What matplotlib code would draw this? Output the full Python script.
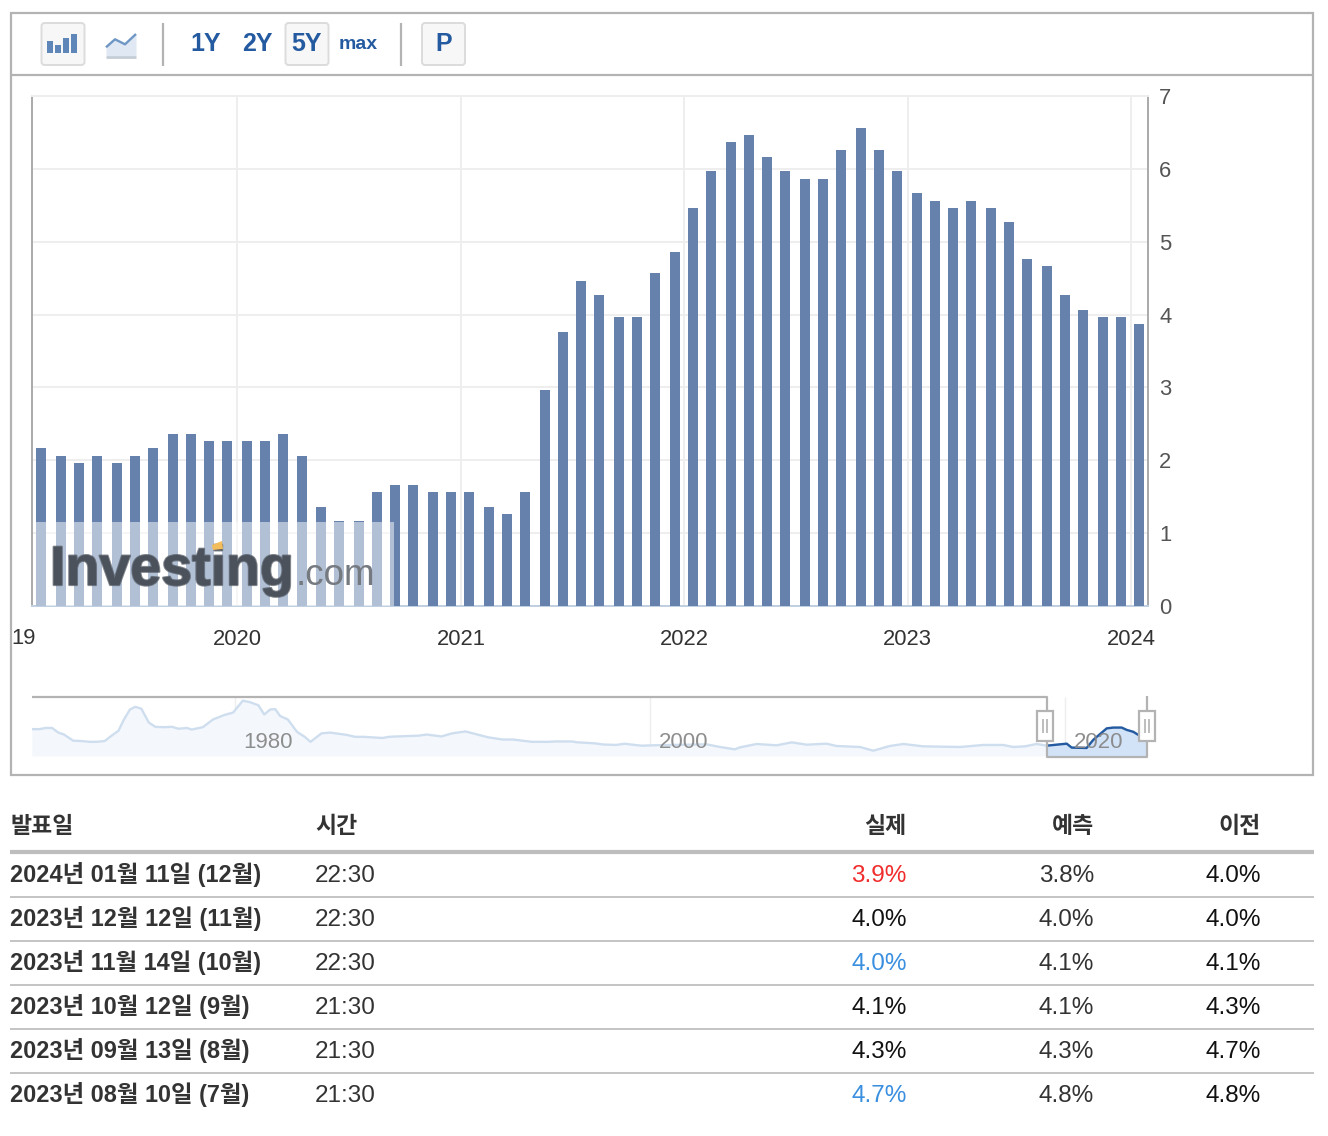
import datetime as dt
import matplotlib
matplotlib.use("Agg")
import matplotlib.pyplot as plt
import matplotlib.dates as mdates
import matplotlib.patheffects as pe
from matplotlib.patches import Rectangle, FancyBboxPatch, Polygon

# ---------- data ----------
release_dates = [
    "2019-02-14","2019-03-19","2019-04-17","2019-05-17","2019-06-19","2019-07-18","2019-08-17","2019-09-18",
    "2019-10-18","2019-11-16","2019-12-16","2020-01-17","2020-02-15","2020-03-16","2020-04-17","2020-05-17",
    "2020-06-16","2020-07-18","2020-08-17","2020-09-15","2020-10-15","2020-11-16","2020-12-16","2021-01-14",
    "2021-02-16","2021-03-17","2021-04-16","2021-05-18","2021-06-17","2021-07-16","2021-08-15","2021-09-16",
    "2021-10-16","2021-11-14","2021-12-17","2022-01-15","2022-02-13","2022-03-18","2022-04-16","2022-05-16",
    "2022-06-14","2022-07-17","2022-08-15","2022-09-14","2022-10-16","2022-11-15","2022-12-14","2023-01-16",
    "2023-02-14","2023-03-16","2023-04-14","2023-05-17","2023-06-15","2023-07-15","2023-08-16","2023-09-15",
    "2023-10-14","2023-11-16","2023-12-15","2024-01-14",
]
core_cpi = [
    2.2,2.1,2.0,2.1,2.0,2.1,2.2,2.4,2.4,2.3,2.3,2.3,2.3,2.4,2.1,1.4,1.2,1.2,1.6,1.7,
    1.7,1.6,1.6,1.6,1.4,1.3,1.6,3.0,3.8,4.5,4.3,4.0,4.0,4.6,4.9,5.5,6.0,6.4,6.5,6.2,
    6.0,5.9,5.9,6.3,6.6,6.3,6.0,5.7,5.6,5.5,5.6,5.5,5.3,4.8,4.7,4.3,4.1,4.0,4.0,3.9,
]
y_ticks = [0,1,2,3,4,5,6,7]
year_ticks = [2020,2021,2022,2023,2024]

nav_years = [1970.19,1970.56,1970.86,1971.17,1971.47,1971.74,1972.18,1972.59,1972.99,1973.3,1973.7,1974.01,
    1974.37,1974.62,1974.92,1975.18,1975.47,1975.83,1976.14,1976.54,1976.95,1977.25,1977.66,1977.9,1978.43,
    1978.92,1979.48,1979.89,1980.36,1980.7,1981.11,1981.39,1981.68,1981.92,1982.16,1982.53,1982.97,1983.34,
    1983.62,1984.15,1984.56,1985.37,1985.77,1986.18,1987.09,1987.4,1987.8,1988.82,1989.22,1989.93,1990.44,
    1991.09,1992.16,1992.87,1993.38,1994.29,1995.1,1995.41,1996.22,1996.42,1997.34,1997.74,1998.35,1998.75,
    1999.57,2000.17,2002.71,2003.27,2004.07,2004.32,2005.12,2006.08,2006.81,2007.53,2008.49,2008.97,2010.1,
    2010.74,2011.54,2012.19,2013.15,2014.92,2016.04,2017.0,2017.49,2018.05,2018.61,2019.1,2020.06,2020.3,
    2021.02,2021.34,2021.99,2022.31,2022.71,2022.95,2023.27,2023.51,2023.93]
nav_values = [6.2,6.2,6.5,6.5,5.3,4.8,3.2,3.1,2.9,2.9,3.1,4.4,5.8,8.6,11.3,12.0,11.5,7.9,6.8,6.7,6.8,6.3,6.5,6.1,
    6.7,8.7,9.9,10.5,13.6,13.2,12.4,10.0,11.3,11.4,9.6,8.7,5.5,4.2,2.9,5.1,5.3,4.7,4.2,4.2,3.9,4.2,4.3,4.5,4.8,
    4.3,5.1,5.6,4.1,3.5,3.5,2.9,2.9,3.0,3.0,2.8,2.5,2.2,2.1,2.4,1.9,2.0,2.25,1.64,0.95,1.47,2.34,1.99,2.77,2.16,
    2.42,1.82,1.56,0.6,1.82,2.34,1.73,1.56,2.08,2.08,1.56,1.73,2.34,1.9,2.42,1.4,1.3,3.4,6.4,6.6,6.6,6.0,5.5,4.7,3.9]
nav_labels = [1980,2000,2020]
selected_start = 2019.1

range_buttons = ["1Y","2Y","5Y","max"]
table_header = ["발표일","시간","실제","예측","이전"]
table_dates = ["2024년 01월 11일 (12월)","2023년 12월 12일 (11월)","2023년 11월 14일 (10월)",
               "2023년 10월 12일 (9월)","2023년 09월 13일 (8월)","2023년 08월 10일 (7월)"]
table_times = ["22:30","22:30","22:30","21:30","21:30","21:30"]
table_actual = ["3.9%","4.0%","4.0%","4.1%","4.3%","4.7%"]
table_forecast = ["3.8%","4.0%","4.1%","4.1%","4.3%","4.8%"]
table_previous = ["4.0%","4.0%","4.1%","4.3%","4.7%","4.8%"]
actual_colors = ["#f02c2c","#111111","#3a8fe0","#111111","#111111","#3a8fe0"]

# ---------- layout helpers ----------
W, H = 1328, 1136
FONT = ["Liberation Sans", "Noto Sans CJK KR", "DejaVu Sans"]
plt.rcParams["font.family"] = FONT
plt.rcParams["lines.solid_capstyle"] = "butt"
fig = plt.figure(figsize=(W/100, H/100), dpi=100, facecolor="white")

def px_axes(l, t, r, b, **kw):
    return fig.add_axes([l/W, 1-b/H, (r-l)/W, (b-t)/H], **kw)

page = fig.add_axes([0,0,1,1], zorder=0)
page.set_xlim(0, W); page.set_ylim(H, 0); page.axis("off")
GREY = "#b3b3b3"
page.add_patch(Rectangle((11,13),1302,762,fc="white",ec=GREY,lw=1.6))
page.plot([11,1313],[75,75],color=GREY,lw=1.6)
for x in (163,401):
    page.plot([x,x],[22.5,65.5],color=GREY,lw=1.6)

def button(x, w=43):
    page.add_patch(FancyBboxPatch((x,23),w,42,boxstyle="round,pad=0,rounding_size=3",
                                  fc="#f7f7f7",ec="#dcdcdc",lw=1.4,zorder=1))
button(41.5); button(285.5); button(422)
BLUE = "#245aa0"
for x,top_y in zip((46.7,55,63.3,71),(40.7,44.7,38.3,34)):
    page.add_patch(Rectangle((x,top_y),5.8,53.3-top_y,fc="#5f86b8",ec="none",zorder=2))
lx=[106,115,125,136]; ly=[47.3,39.3,44.3,34]
page.fill_between(lx,ly,[55.5]*4,color="#dfe8f3",zorder=2,lw=0)
page.plot(lx,ly,color="#6f97c5",lw=1.7,zorder=3)
page.plot([106,136],[56.8,56.8],color="#c3ccd7",lw=2,zorder=3)
for s,x,y,fs in zip(range_buttons,(206,257,307,358),(44,44,44,44.5),(18,18,18,14)):
    page.text(x,y,s,ha="center",va="center",fontsize=fs,fontweight="bold",color=BLUE,zorder=3,
              family="Liberation Sans")
page.text(444,44,"P",ha="center",va="center",fontsize=18,fontweight="bold",color=BLUE,zorder=3,
          family="Liberation Sans")

# ---------- main bar chart ----------
ax = px_axes(32,96,1148,606, zorder=2)
dates = [dt.datetime.strptime(d,"%Y-%m-%d") for d in release_dates]
x_nums = mdates.date2num(dates)
d2020 = mdates.date2num(dt.datetime(2020,1,1)); d2024 = mdates.date2num(dt.datetime(2024,1,1))
per_px = (d2024-d2020)/(1131-237)
ax.set_xlim(d2020-(237-32)*per_px, d2020+(1148-237)*per_px)
ax.set_ylim(0,7)
ticks_x = [mdates.date2num(dt.datetime(y,1,1)) for y in year_ticks]
ax.set_xticks(ticks_x)
ax.set_xticklabels([str(y) for y in year_ticks])
ax.tick_params(axis="x",length=0,labelsize=15.8,labelcolor="#333333",pad=16.7)
ax.grid(True,color="#eeeeee",lw=1.4,zorder=0)
ax.set_axisbelow(True)
ax.spines["top"].set_color("#eeeeee"); ax.spines["top"].set_linewidth(1.4)
ax.spines["left"].set_color("#aaaaaa"); ax.spines["left"].set_linewidth(1.4)
ax.spines["right"].set_color("#aaaaaa"); ax.spines["right"].set_linewidth(1.4)
ax.spines["bottom"].set_color("#c0cfe0"); ax.spines["bottom"].set_linewidth(1.4)

# bars sit a pixel or two below the gridlines in the reference
bars = ax.twinx()
bars.set_zorder(3); bars.patch.set_alpha(0)
bars.set_ylim(0.035,7.035)
bars.set_yticks([])
for s in bars.spines.values():
    s.set_visible(False)
bars.bar(x_nums, core_cpi, width=10*per_px, color="#6682ac", lw=0)

# value axis labels go on the right (twinx resets the side, so set it afterwards)
ax.set_yticks(y_ticks)
ax.yaxis.tick_right()
ax.tick_params(axis="y",length=0,labelsize=15.8,labelcolor="#555555",pad=8)

# overlay in pixels, above the chart
over = fig.add_axes([0,0,1,1], zorder=5)
over.set_xlim(0,W); over.set_ylim(H,0); over.axis("off"); over.patch.set_alpha(0)
over.text(24,638,"19",ha="center",va="center",fontsize=15.8,color="#333333")
over.add_patch(Rectangle((36,522),358,84,fc="white",ec="none",alpha=0.5))
over.text(50,585,"Investing",ha="left",va="baseline",fontsize=40,fontweight="bold",color="#4b525c",
          family="Liberation Sans",
          path_effects=[pe.withStroke(linewidth=1.6,foreground="#4b525c",alpha=0.7)])
over.text(296,585,".com",ha="left",va="baseline",fontsize=26.5,color="#757a81",family="Liberation Sans")
over.add_patch(Polygon([(212,545),(222,541),(223,549),(213,550)],fc="#f3bd5c",ec="none",zorder=6))

# ---------- navigator ----------
nav = px_axes(32,697,1147,756, zorder=2)
y_lo, y_hi = -0.78, 14.55
nav.set_xlim(1970.2,2023.93); nav.set_ylim(y_lo,y_hi)
nav.axis("off")
for yr in nav_labels:
    nav.axvline(yr,color="#eeeeee",lw=1,zorder=0)
nav.fill_between(nav_years,nav_values,y_lo,color="#f4f8fd",lw=0,zorder=1)
nav.plot(nav_years,nav_values,color="#cfdeee",lw=1.7,zorder=2)
sel_x=[v for v in nav_years if v>=selected_start]
sel_y=[b for a,b in zip(nav_years,nav_values) if a>=selected_start]
nav.fill_between(sel_x,sel_y,y_lo,color="#d2e3f8",lw=0,zorder=3)
nav.plot(sel_x,sel_y,color="#245aa0",lw=1.7,zorder=4)
for yr in nav_labels:
    nav.annotate(str(yr),(yr,0),xycoords=("data","axes fraction"),xytext=(23.8,10),
                 textcoords="offset points",ha="center",va="center",fontsize=16,color="#888888",zorder=5,alpha=.95)

top = fig.add_axes([0,0,1,1], zorder=6)
top.set_xlim(0,W); top.set_ylim(H,0); top.axis("off"); top.patch.set_alpha(0)
top.plot([32,1047,1047],[697,697,710],color=GREY,lw=1.6)
top.plot([1047,1047,1147,1147],[742,757,757,742],color=GREY,lw=1.6)
top.plot([1147,1147],[696,711],color=GREY,lw=1.6)
for x in (1045,1147):
    top.add_patch(Rectangle((x-8,711),16,30,fc="white",ec=GREY,lw=1.6,zorder=7))
    top.plot([x-1.8,x-1.8],[719,733],color=GREY,lw=1.2,zorder=8)
    top.plot([x+1.8,x+1.8],[719,733],color=GREY,lw=1.2,zorder=8)

# ---------- table ----------
col_x = [10,315,906.5,1094,1260.5]
col_ha = ["left","left","right","right","right"]
for s,x,ha in zip(table_header,col_x,col_ha):
    top.text(x,826.5,s,ha=ha,va="center",fontsize=16.5,fontweight="bold",color="#333333")
top.plot([10,1314],[852,852],color="#bdbdbd",lw=3)
row_y0, row_h = 875, 44
for i,(d,t,a,f,p,c) in enumerate(zip(table_dates,table_times,table_actual,table_forecast,table_previous,actual_colors)):
    y = row_y0 + i*row_h
    top.text(col_x[0],y,d,ha="left",va="center",fontsize=16.9,fontweight="bold",color="#333333")
    top.text(col_x[1],y+1.5,t,ha="left",va="center",fontsize=17.5,color="#333333")
    top.text(col_x[2],y+1.5,a,ha="right",va="center",fontsize=17.5,color=c)
    top.text(col_x[3],y+1.5,f,ha="right",va="center",fontsize=17.5,color="#333333")
    top.text(col_x[4],y+1.5,p,ha="right",va="center",fontsize=17.5,color="#111111")
    if i<5:
        top.plot([10,1314],[y+22,y+22],color="#c4c4c4",lw=1.4)

fig.savefig("out.png",dpi=100,facecolor="white")
